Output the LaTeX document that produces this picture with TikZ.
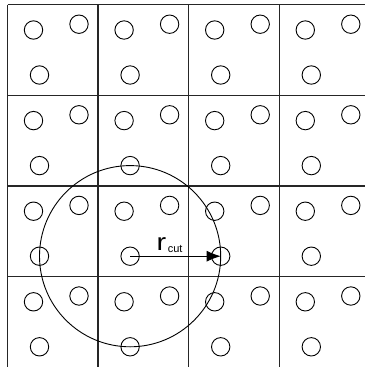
\documentclass[tikz,border=0pt]{standalone}
\usepackage{fontspec}
\setmainfont{Liberation Sans}
\usetikzlibrary{arrows.meta}
\begin{document}
\begin{tikzpicture}[x=1pt,y=-1pt,
  gridline/.style={line width=1.4pt,draw=black!85},
  particle/.style={circle,draw=black,line width=0.9pt,minimum size=18.4pt,inner sep=0pt},
  cutoff/.style={line width=0.9pt,draw=black},
  radius arrow/.style={line width=0.9pt,-{Latex[length=14pt,width=11pt]}}]
\useasboundingbox (0,0) rectangle (365,367);
\def\cs{90.6}
\def\xo{7.5}
\def\yo{4.7}
% grid
\foreach \i in {0,1,2,3}{
  \draw[gridline] ({\xo+\i*\cs},\yo) -- ({\xo+\i*\cs},367);
  \draw[gridline] (\xo,{\yo+\i*\cs}) -- (365,{\yo+\i*\cs});
}
% particles
\foreach \i in {0,1,2,3}{
  \foreach \j in {0,1,2,3}{
    \node[particle] (c-\i-\j-1) at ({\xo+\i*\cs+26},{\yo+\j*\cs+25.3}) {};
    \node[particle] (c-\i-\j-2) at ({\xo+\i*\cs+71.5},{\yo+\j*\cs+19.5}) {};
    \node[particle] (c-\i-\j-3) at ({\xo+\i*\cs+32},{\yo+\j*\cs+70.3}) {};
  }
}
% cutoff sphere
\draw[cutoff] (c-1-2-3.center) circle[radius=\cs];
\draw[radius arrow] (c-1-2-3.center) -- (c-2-2-3.center);
\node[anchor=base west,inner sep=0pt] (rcut) at (156.5,250.5)
  {\scalebox{1.2}[1]{\fontsize{24}{24}\selectfont r}\hspace{1.5pt}\raisebox{-2pt}{\fontsize{11}{11}\selectfont cut}};
\end{tikzpicture}
\end{document}
